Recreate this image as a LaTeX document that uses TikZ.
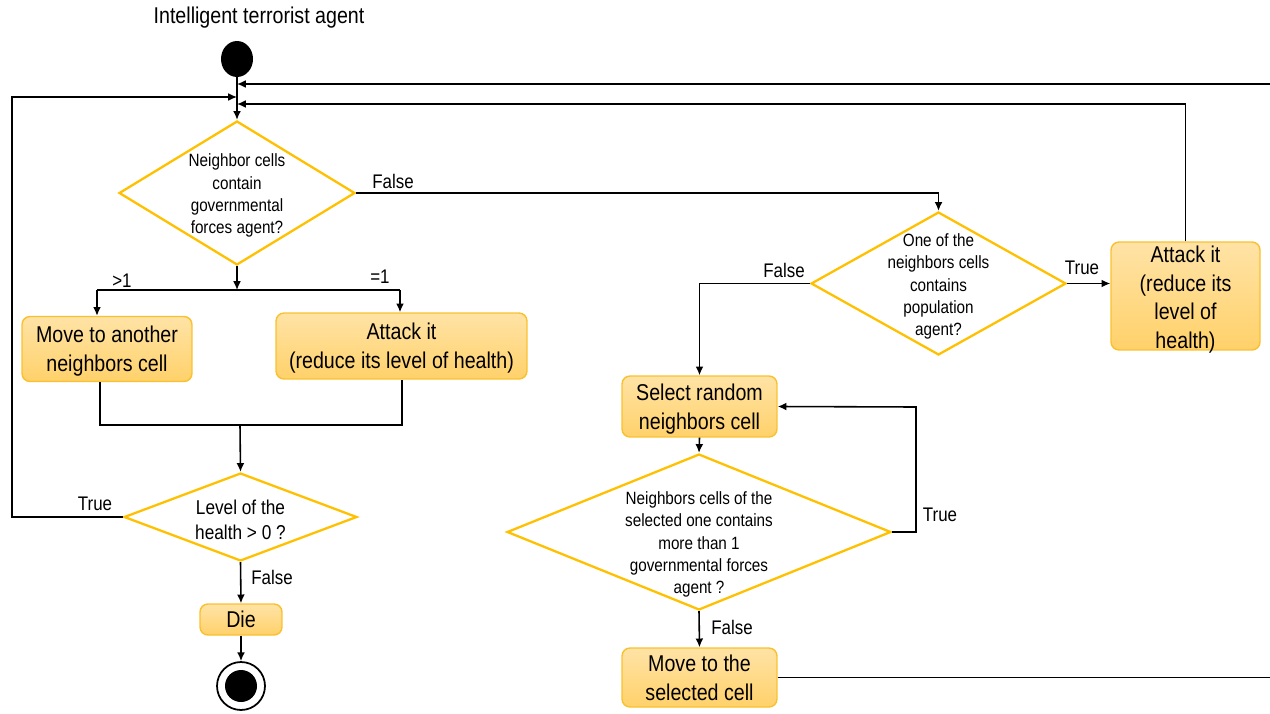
\documentclass[tikz,border=0pt]{standalone}
\usepackage{fontspec}
\setmainfont{Liberation Sans}[FakeStretch=0.86]
\usetikzlibrary{shapes.geometric,arrows.meta,calc}
\definecolor{gold}{HTML}{FFC000}
\definecolor{boxtop}{HTML}{FFE3A6}
\definecolor{boxbot}{HTML}{FFD16A}
\definecolor{boxline}{HTML}{F9C12E}
\tikzset{
 act/.style={draw=boxline, line width=0.8pt, rounded corners=1.6mm, top color=boxtop, bottom color=boxbot, align=center, inner sep=0pt, text depth=0pt, font=\fontsize{13pt}{16.4pt}\selectfont},
 dec/.style={draw=gold, line width=1.3pt, diamond, fill=white, inner sep=0pt},
 dtxt/.style={align=center, inner sep=0pt, yshift=-0.05cm, font=\fontsize{10.1pt}{12.6pt}\selectfont},
 conn/.style={line width=0.9pt, -{Latex[length=5pt,width=4.5pt]}},
 wire/.style={line width=0.9pt},
 lbl/.style={inner sep=0pt, font=\fontsize{11.2pt}{13pt}\selectfont},
}
\begin{document}
\begin{tikzpicture}[x=0.02cm,y=-0.02cm]
\useasboundingbox (0,0) rectangle (1270,713);
% title and start
\node[inner sep=0pt, font=\fontsize{13pt}{15pt}\selectfont] (title) at (259,18) {Intelligent terrorist agent};
\node[ellipse, fill=black, minimum width=0.64cm, minimum height=0.72cm, inner sep=0pt] (start) at (237,59) {};
% decisions
\node[dec, minimum width=4.72cm, minimum height=2.88cm] (d1) at (237,193) {};
\node[dtxt] (d1t) at (237,193) {Neighbor cells\\contain\\governmental\\forces agent?};
\node[dec, minimum width=5.1cm, minimum height=2.86cm] (d2) at (938.5,283.5) {};
\node[dtxt] (d2t) at (938.5,284) {One of the\\neighbors cells\\contains\\population\\agent?};
\node[dec, minimum width=4.66cm, minimum height=1.76cm] (d3) at (240.5,517) {};
\node[dtxt, font=\fontsize{11.4pt}{14.2pt}\selectfont] (d3t) at (240.5,517) {Level of the\\health > 0 ?};
\node[dec, minimum width=7.68cm, minimum height=3.12cm] (d4) at (699,532) {};
\node[dtxt] (d4t) at (699,542) {Neighbors cells of the\\selected one contains\\more than 1\\governmental forces\\agent ?};
% actions
\node[act, minimum width=3.4cm, minimum height=1.3cm] (move1) at (107,349) {Move to another\\neighbors cell};
\node[act, minimum width=5.02cm, minimum height=1.32cm] (att1) at (401.5,346) {Attack it\\(reduce its level of health)};
\node[act, minimum width=1.64cm, minimum height=0.62cm] (die) at (241,619.5) {Die};
\node[act, minimum width=2.98cm, minimum height=2.16cm] (att2) at (1185.5,296) {};
\node[align=center, inner sep=0pt, yshift=-0.03cm, font=\fontsize{13pt}{16.4pt}\selectfont] (att2t) at (1185.5,298) {Attack it\\(reduce its\\level of\\health)};
\node[act, minimum width=3.1cm, minimum height=1.22cm] (sel) at (699.5,406.5) {Select random\\neighbors cell};
\node[act, minimum width=3.1cm, minimum height=1.18cm] (move2) at (699.5,677.5) {Move to the\\selected cell};
% end
\node[circle, draw=black, line width=1pt, fill=white, minimum size=0.96cm, inner sep=0pt] (endo) at (241,686) {};
\node[circle, fill=black, minimum size=0.64cm, inner sep=0pt] (endi) at (241,686) {};
% coordinates
\coordinate (in3) at (237,84);
\coordinate (in1) at (237,97);
\coordinate (in2) at (237,104);
\coordinate (eT) at (1270,84);
\coordinate (lc) at (12,97);
\coordinate (j1) at (237,290);
\coordinate (jL) at (97,290);
\coordinate (jR) at (400,290);
\coordinate (mB) at (100,425);
\coordinate (aB) at (402,425);
\coordinate (j2) at (240,425);
\coordinate (rt) at (916,407);
\coordinate (eR) at (1270,677.5);
% connectors
\draw[conn] (start) -- (d1.north);
\draw[conn] (eT) -- (in3);
\draw[conn] (d3.west) -| (lc) -- (in1);
\draw[conn] (att2.north) |- (in2);
\draw[conn] (d1.south) -- (j1);
\draw[wire] (jL) -- (jR);
\draw[conn] (jL) -- (jL |- move1.north);
\draw[conn] (jR) -- (jR |- att1.north);
\draw[wire] (mB |- move1.south) -- (mB) -- (aB) -- (aB |- att1.south);
\draw[conn] (j2) -- (d3.north);
\draw[conn] (d3.south) -- (die.north);
\draw[conn] (die.south) -- (endo.north);
\draw[conn] (d1.east) -| (d2.north);
\draw[conn] (d2.east) -- (d2.east -| att2.west);
\draw[conn] (d2.west) -| (sel.north);
\draw[conn] (sel.south) -- (d4.north);
\draw[conn] (d4.east) -| (rt) -- (sel.east);
\draw[conn] (d4.south) -- (move2.north);
\draw[wire] (move2.east) -- (eR);
% labels
\node[lbl] (l1) at (122,281) {>1};
\node[lbl] (l2) at (380,277) {=1};
\node[lbl] (l3) at (95,504) {True};
\node[lbl] (l4) at (272,577) {False};
\node[lbl] (l5) at (393,181) {False};
\node[lbl] (l6) at (1082,268) {True};
\node[lbl] (l7) at (784,270) {False};
\node[lbl] (l8) at (940,515) {True};
\node[lbl] (l9) at (732,627) {False};
\end{tikzpicture}
\end{document}
